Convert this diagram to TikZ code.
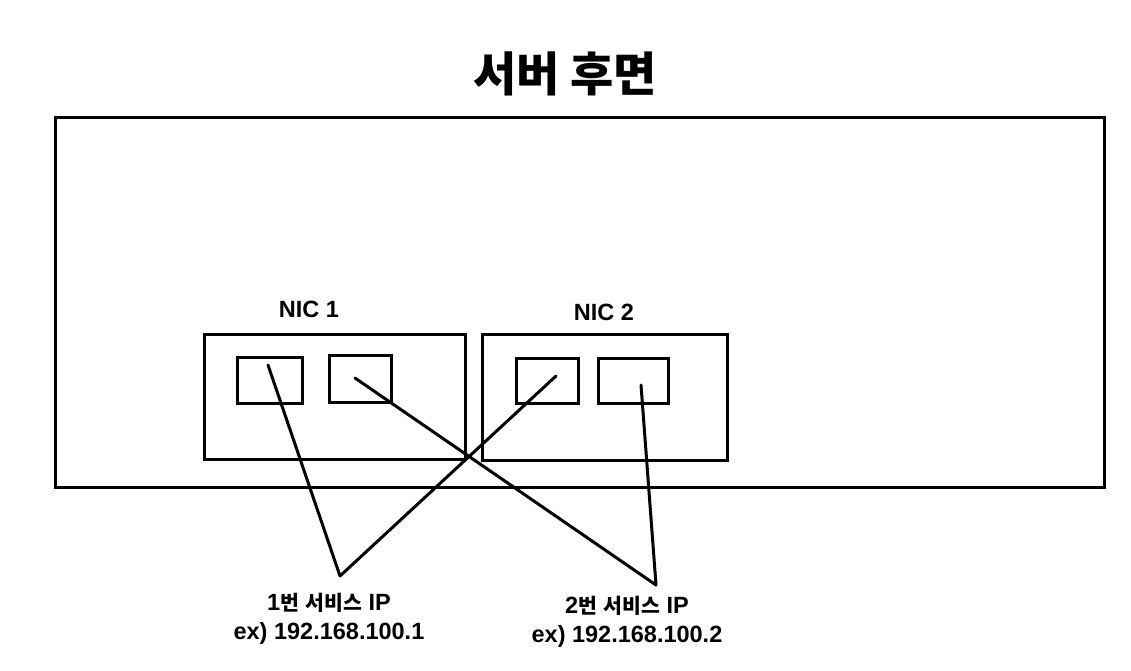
\documentclass[tikz,border=0pt]{standalone}
\usepackage{fontspec}
\setmainfont{Liberation Sans}
\newfontfamily\kr{Noto Sans CJK KR}
\begin{document}
\begin{tikzpicture}[x=1pt,y=-1pt,
  box/.style={draw=black,line width=3pt,fill=none},
  wire/.style={draw=black,line width=3pt,line cap=round,line join=round},
  lbl/.style={font=\bfseries\fontsize{23.5}{29}\selectfont,align=center,inner sep=0pt},
  niclbl/.style={font=\bfseries\fontsize{23.5}{24}\selectfont,inner sep=0pt}]
\useasboundingbox[fill=white] (0,0) rectangle (1131,670);
\node[font=\kr\bfseries\fontsize{47}{50}\selectfont,inner sep=0pt] (title) at (565,74) {서버 후면};
\draw[box] (55,117) rectangle (1104,487);
\node[box,minimum width=261pt,minimum height=125pt,inner sep=0pt] (nic1) at (334.5,396.5) {};
\node[box,minimum width=245pt,minimum height=126pt,inner sep=0pt] (nic2) at (604.5,397) {};
\node[niclbl] (nic1l) at (309,309) {NIC 1};
\node[niclbl] (nic2l) at (604,312) {NIC 2};
\node[box,minimum width=65pt,minimum height=46pt,inner sep=0pt] (p11) at (269.5,380) {};
\node[box,minimum width=62pt,minimum height=47pt,inner sep=0pt] (p12) at (360,378.5) {};
\node[box,minimum width=62pt,minimum height=45pt,inner sep=0pt] (p21) at (547,380.5) {};
\node[box,minimum width=70pt,minimum height=45pt,inner sep=0pt] (p22) at (633,380.5) {};
\coordinate (a1) at (268,365);
\coordinate (a2) at (355,378);
\coordinate (b1) at (556,376);
\coordinate (b2) at (641,385);
\coordinate (v1) at (340,576);
\coordinate (v2) at (656,585);
\draw[wire] (a1) -- (v1) -- (b1);
\draw[wire] (a2) -- (v2) -- (b2);
\node[lbl] (ip1) at (329,619) {1{\kr\fontsize{20.5}{29}\selectfont 번} {\kr\fontsize{20.5}{29}\selectfont 서비스} IP\\ex) 192.168.100.1};
\node[lbl] (ip2) at (627,622) {2{\kr\fontsize{20.5}{29}\selectfont 번} {\kr\fontsize{20.5}{29}\selectfont 서비스} IP\\ex) 192.168.100.2};
\end{tikzpicture}
\end{document}
